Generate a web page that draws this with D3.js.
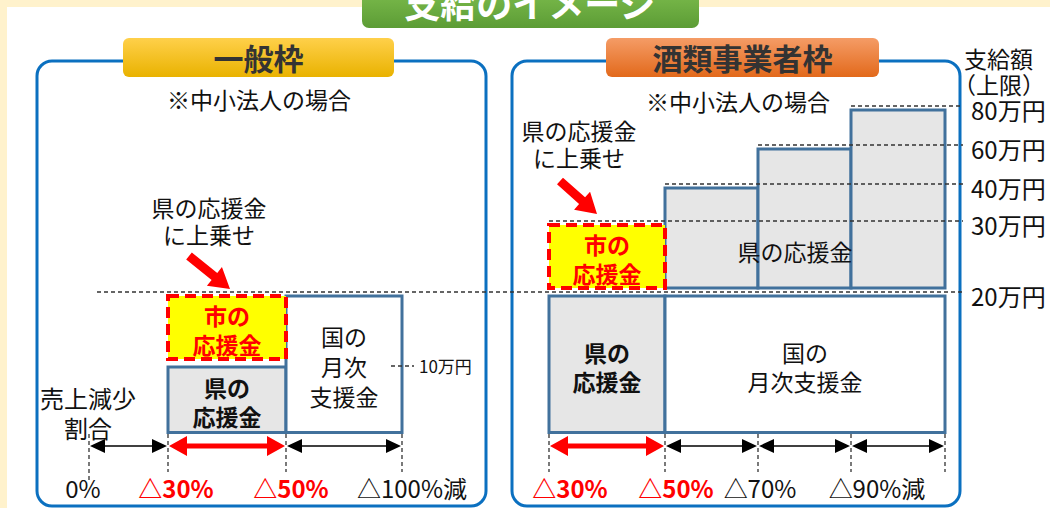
<!DOCTYPE html>
<html>
<head>
<meta charset="utf-8">
<script src="https://cdn.jsdelivr.net/npm/d3@7"></script>
<style>
  body { margin: 0; background: #fff2cc; }
  svg { display: block; font-family: "Noto Sans CJK JP", "Noto Sans", sans-serif; }
</style>
</head>
<body>
<div id="chart"></div>
<script>
// Data
// sales decrease (%) where each band starts / ends
const generalCuts = [0, 30, 50, 100]
const generalCutLabels = ['0%', '△30%', '△50%', '△100%減']
const liquorCuts = [30, 50, 70, 90, 100]
const liquorCutLabels = ['△30%', '△50%', '△70%', '△90%減']

// payment ceiling (万円)
const amountTicks = [20, 30, 40, 60, 80]
const amountTickLabels = ['20万円', '30万円', '40万円', '60万円', '80万円']

// boxes: sales band [from, to] and amount [lo, hi]
const generalBoxes = [
  { lines: ['県の', '応援金'], kind: 'pref', from: 30, to: 50, lo: 0, hi: 10 },
  { lines: ['市の', '応援金'], kind: 'city', from: 30, to: 50, lo: 10, hi: 20 },
  { lines: ['国の', '月次', '支援金'], kind: 'nation', from: 50, to: 100, lo: 0, hi: 20 }
]
const liquorBoxes = [
  { lines: ['県の', '応援金'], kind: 'pref', from: 30, to: 50, lo: 0, hi: 20 },
  { lines: ['市の', '応援金'], kind: 'city', from: 30, to: 50, lo: 20, hi: 30 },
  { lines: ['国の', '月次支援金'], kind: 'nation', from: 50, to: 100, lo: 0, hi: 20 }
]
const liquorSteps = [
  { from: 50, to: 70, lo: 20, hi: 40 },
  { from: 70, to: 90, lo: 20, hi: 60 },
  { from: 90, to: 100, lo: 20, hi: 80 }
]

function draw() {
  const width = 1050
  const height = 508

  const svg = d3.select('#chart')
    .append('svg')
    .attr('width', width)
    .attr('height', height)

  const defs = svg.append('defs')
  function gradient(id, top, bottom) {
    const g = defs.append('linearGradient')
      .attr('id', id)
      .attr('x1', 0).attr('y1', 0).attr('x2', 0).attr('y2', 1)
    g.append('stop').attr('offset', '0%').attr('stop-color', top)
    g.append('stop').attr('offset', '100%').attr('stop-color', bottom)
  }
  gradient('gYellow', '#ffd04a', '#e9b200')
  gradient('gOrange', '#f59c66', '#e2691b')
  gradient('gGreen', '#7fbf4f', '#5c9c35')

  // background
  svg.append('rect').attr('width', width).attr('height', height).attr('fill', '#fff2cc')
  svg.append('rect').attr('x', 7).attr('y', 7).attr('width', width).attr('height', height).attr('fill', '#fff')

  // Scales (schematic, so piecewise)
  const yScale = d3.scaleLinear()
    .domain([0, 20, 30, 40, 60, 80])
    .range([434, 292, 221, 184, 145, 106])

  const xGeneral = d3.scaleLinear()
    .domain(generalCuts)
    .range([89, 168, 286, 402])

  const xLiquor = d3.scaleLinear()
    .domain(liquorCuts)
    .range([549, 665, 758, 851, 945])

  // panels
  svg.selectAll('rect.panel')
    .data([{ x: 37, w: 449 }, { x: 512, w: 448 }])
    .join('rect')
    .classed('panel', true)
    .attr('x', d => d.x)
    .attr('y', 61)
    .attr('width', d => d.w)
    .attr('height', 445)
    .attr('rx', 15)
    .attr('fill', 'none')
    .attr('stroke', '#0b70c0')
    .attr('stroke-width', 3)

  // title boxes
  svg.append('rect')
    .attr('x', 362).attr('y', -14).attr('width', 337).attr('height', 42).attr('rx', 7)
    .attr('fill', 'url(#gGreen)')
  svg.append('text')
    .attr('x', 530).attr('y', 2)
    .attr('text-anchor', 'middle').attr('dominant-baseline', 'central')
    .attr('font-size', 36).attr('font-weight', 'bold').attr('fill', '#fff')
    .text('支給のイメージ')

  const tags = [
    { label: '一般枠', x: 123, w: 271, fill: 'url(#gYellow)' },
    { label: '酒類事業者枠', x: 606, w: 273, fill: 'url(#gOrange)' }
  ]
  svg.selectAll('rect.tag')
    .data(tags)
    .join('rect')
    .classed('tag', true)
    .attr('x', d => d.x).attr('y', 38)
    .attr('width', d => d.w).attr('height', 39)
    .attr('rx', 6)
    .attr('fill', d => d.fill)
  svg.selectAll('text.tag')
    .data(tags)
    .join('text')
    .classed('tag', true)
    .attr('x', d => d.x + d.w / 2).attr('y', 57)
    .attr('text-anchor', 'middle').attr('dominant-baseline', 'central')
    .attr('font-size', 30).attr('font-weight', 'bold').attr('fill', '#333')
    .text(d => d.label)

  // multi-line text as one <text> with tspans
  function label(x, y, lines, opts = {}) {
    const lh = opts.lh || 27
    const t = svg.append('text')
      .attr('text-anchor', opts.anchor || 'middle')
      .attr('font-size', opts.size || 23)
      .attr('font-weight', opts.bold ? 'bold' : 'normal')
      .attr('fill', opts.color || '#111')
    lines.forEach((s, i) => {
      t.append('tspan')
        .attr('x', x)
        .attr('y', y + (i - (lines.length - 1) / 2) * lh)
        .attr('dominant-baseline', 'central')
        .text(s)
    })
  }

  label(259, 99, ['※中小法人の場合'])
  label(738, 101, ['※中小法人の場合'])
  label(209, 220, ['県の応援金', 'に上乗せ'], { lh: 27 })
  label(579, 143, ['県の応援金', 'に上乗せ'], { lh: 27 })
  label(88, 412, ['売上減少', '割合'], { lh: 30, size: 24 })

  // callout arrows
  function calloutArrow(x0, y0, x1, y1) {
    const ang = Math.atan2(y1 - y0, x1 - x0) * 180 / Math.PI
    const len = Math.hypot(x1 - x0, y1 - y0)
    svg.append('path')
      .attr('transform', `translate(${x1},${y1}) rotate(${ang})`)
      .attr('d', `M0,0L-20,-12L-20,-4.5L${-len},-4.5L${-len},4.5L-20,4.5L-20,12Z`)
      .attr('fill', '#ff0000')
  }
  calloutArrow(189, 256, 230, 289)
  calloutArrow(560, 181, 597, 214)

  // boxes
  const boxStyle = {
    pref: { fill: '#e6e6e6', stroke: '#41719c', dash: null, color: '#111', bold: true },
    city: { fill: '#ffff00', stroke: '#ff0000', dash: '11,6', color: '#ff0000', bold: true },
    nation: { fill: '#fff', stroke: '#41719c', dash: null, color: '#111', bold: false },
    step: { fill: '#e6e6e6', stroke: '#41719c', dash: null }
  }
  const boxTop = d => yScale(d.hi) + 4
  const boxBottom = d => d.lo === 0 ? yScale(0) - 1.5 : yScale(d.lo) - 4

  function drawBoxes(data, xScale, kindOf) {
    const g = svg.append('g')
    g.selectAll('rect')
      .data(data)
      .join('rect')
      .attr('x', d => xScale(d.from))
      .attr('y', boxTop)
      .attr('width', d => xScale(d.to) - xScale(d.from))
      .attr('height', d => boxBottom(d) - boxTop(d))
      .attr('fill', d => boxStyle[kindOf(d)].fill)
      .attr('stroke', d => boxStyle[kindOf(d)].stroke)
      .attr('stroke-width', d => kindOf(d) === 'city' ? 4 : 3)
      .attr('stroke-dasharray', d => boxStyle[kindOf(d)].dash)
  }
  drawBoxes(liquorSteps, xLiquor, () => 'step')
  drawBoxes(generalBoxes.filter(d => d.kind !== 'city'), xGeneral, d => d.kind)
  drawBoxes(generalBoxes.filter(d => d.kind === 'city'), xGeneral, d => d.kind)
  drawBoxes(liquorBoxes.filter(d => d.kind !== 'city'), xLiquor, d => d.kind)
  drawBoxes(liquorBoxes.filter(d => d.kind === 'city'), xLiquor, d => d.kind)

  // amount guide lines
  const dashColor = '#333'
  const lineStart = v => {
    if (v === amountTicks[0]) return xGeneral(0) + 8
    const all = liquorBoxes.concat(liquorSteps).filter(d => d.hi === v)
    return xLiquor(d3.min(all, d => d.from))
  }
  svg.append('g')
    .selectAll('line')
    .data(amountTicks)
    .join('line')
    .attr('x1', lineStart)
    .attr('x2', 963)
    .attr('y1', d => yScale(d))
    .attr('y2', d => yScale(d))
    .attr('stroke', dashColor)
    .attr('stroke-width', 1.3)
    .attr('stroke-dasharray', '4,3')

  svg.append('g')
    .selectAll('text')
    .data(amountTicks)
    .join('text')
    .attr('x', 971)
    .attr('y', d => yScale(d) + 3)
    .attr('dominant-baseline', 'central')
    .attr('font-size', 24)
    .attr('fill', '#111')
    .text((d, i) => amountTickLabels[i])

  // axis title (two lines, second one starts with a full-width paren)
  const axTitle = svg.append('text').attr('font-size', 23).attr('fill', '#111')
  axTitle.append('tspan').attr('x', 964).attr('y', 58).attr('dominant-baseline', 'central').text('支給額')
  axTitle.append('tspan').attr('x', 953).attr('y', 84).attr('dominant-baseline', 'central').text('（上限）')

  // 10万円 marker (general)
  svg.append('line')
    .attr('x1', xGeneral(100) - 11).attr('x2', xGeneral(100) + 12)
    .attr('y1', yScale(10) + 3).attr('y2', yScale(10) + 3)
    .attr('stroke', dashColor).attr('stroke-width', 1.3).attr('stroke-dasharray', '4,3')
  label(xGeneral(100) + 17, yScale(10) + 2, ['10万円'], { anchor: 'start', size: 17 })

  // box texts
  function boxText(data, xScale) {
    data.forEach(d => {
      const s = boxStyle[d.kind]
      label((xScale(d.from) + xScale(d.to)) / 2, (boxTop(d) + boxBottom(d)) / 2 + 2, d.lines,
        { bold: s.bold, color: s.color, lh: d.lines.length > 2 ? 30 : 29 })
    })
  }
  boxText(generalBoxes, xGeneral)
  boxText(liquorBoxes, xLiquor)
  label((xLiquor(50) + xLiquor(100)) / 2 - 10, yScale(25) - 6, ['県の応援金'], { size: 23 })

  // sales-decrease axis
  const arrowY = 446
  function axis(cuts, labels, xScale, nudges) {
    const g = svg.append('g')
    g.selectAll('line.tick')
      .data(cuts)
      .join('line')
      .classed('tick', true)
      .attr('x1', d => xScale(d)).attr('x2', d => xScale(d))
      .attr('y1', yScale(0)).attr('y2', (d, i) => i === 0 && cuts[0] === 0 ? 480 : 472)
      .attr('stroke', dashColor).attr('stroke-width', 1.3).attr('stroke-dasharray', '4,3')

    d3.pairs(cuts).forEach(([a, b]) => {
      const red = a === 30 && b === 50
      const x0 = xScale(a) + 1, x1 = xScale(b) - 1
      const head = red ? 18 : 15, half = red ? 10 : 7
      const color = red ? '#ff0000' : '#000'
      g.append('line')
        .attr('x1', x0 + head - 2).attr('x2', x1 - head + 2)
        .attr('y1', arrowY).attr('y2', arrowY)
        .attr('stroke', color).attr('stroke-width', red ? 5 : 1.5)
      g.append('path')
        .attr('d', `M${x0},${arrowY}L${x0 + head},${arrowY - half}L${x0 + head},${arrowY + half}Z` +
          `M${x1},${arrowY}L${x1 - head},${arrowY - half}L${x1 - head},${arrowY + half}Z`)
        .attr('fill', color)
    })

    g.selectAll('text')
      .data(labels)
      .join('text')
      .attr('x', (d, i) => xScale(cuts[i]) + nudges[i])
      .attr('y', 487)
      .attr('text-anchor', 'middle')
      .attr('dominant-baseline', 'central')
      .attr('font-size', 24)
      .attr('font-weight', (d, i) => [30, 50].includes(cuts[i]) ? 'bold' : 'normal')
      .attr('fill', (d, i) => [30, 50].includes(cuts[i]) ? '#ff0000' : '#111')
      .text(d => d)
  }
  axis(generalCuts, generalCutLabels, xGeneral, [-6, 8, 5, 10])
  axis(liquorCuts, liquorCutLabels, xLiquor, [21, 11, 2, 26])
}

draw()
</script>
</body>
</html>
